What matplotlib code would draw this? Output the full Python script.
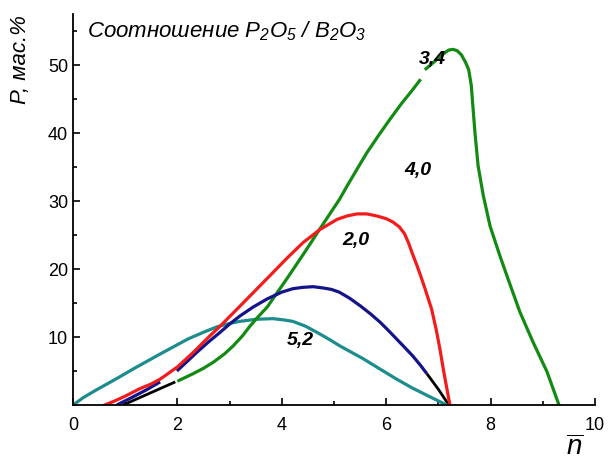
import matplotlib
matplotlib.use("Agg")
import matplotlib.pyplot as plt
from matplotlib.ticker import MultipleLocator

plt.rcParams['font.family'] = ['Liberation Sans', 'DejaVu Sans']
plt.rcParams['mathtext.fontset'] = 'custom'
plt.rcParams['mathtext.rm'] = 'Liberation Sans:italic'
plt.rcParams['mathtext.it'] = 'Liberation Sans:italic'

# ---- data ----
# ratio 3,4 (green); black part is the extrapolated start
green_n1 = [2.0, 2.3, 2.5, 2.69, 2.9, 3.07, 3.25, 3.39, 3.55, 3.72, 4.1, 4.45, 4.73, 5.11, 5.25,
            5.45, 5.63, 5.85, 6.07, 6.3, 6.5, 6.66]
green_p1 = [3.5, 4.6, 5.4, 6.3, 7.5, 8.7, 10.2, 11.6, 13.0, 14.4, 18.6, 22.6, 25.9, 30.3, 32.2,
            34.8, 37.1, 39.6, 42.0, 44.4, 46.3, 47.9]
green_n2 = [6.74, 6.97, 7.12, 7.2, 7.28, 7.36, 7.44, 7.52, 7.58, 7.63, 7.66, 7.7, 7.76, 7.86, 7.99,
            8.18, 8.35, 8.56, 8.81, 9.08, 9.31]
green_p2 = [49.3, 50.8, 51.8, 52.2, 52.3, 52.1, 51.5, 50.4, 49.3, 47.0, 44.0, 40.1, 35.2, 30.8, 26.3,
            21.9, 18.2, 13.7, 9.3, 4.9, 0.0]
green_ext_n = [0.96, 1.96]
green_ext_p = [0.0, 3.4]

# ratio 4,0 (red)
red_n = [0.61, 0.8, 1.0, 1.28, 1.5, 1.67, 2.0, 2.3, 2.6, 2.82, 3.13, 3.45, 3.77, 4.1, 4.41, 4.73,
         5.06, 5.25, 5.44, 5.63, 5.82, 6.0, 6.13, 6.25, 6.35, 6.43, 6.5, 6.59, 6.66, 6.74, 6.87,
         6.96, 7.03, 7.1, 7.16, 7.22]
red_p = [0.0, 0.6, 1.3, 2.4, 3.1, 3.8, 5.6, 7.7, 10.0, 11.6, 14.0, 16.5, 19.0, 21.6, 23.9, 25.8,
         27.3, 27.8, 28.1, 28.1, 27.8, 27.4, 26.9, 26.2, 25.2, 23.8, 22.3, 20.5, 19.0, 17.2, 14.1,
         11.0, 8.2, 5.0, 2.5, 0.0]

# ratio 2,0 (blue); black part is the extrapolated end
blue_n1 = [0.84, 1.1, 1.4, 1.67]
blue_p1 = [0.0, 1.0, 2.2, 3.4]
blue_n2 = [1.99, 2.2, 2.38, 2.6, 2.82, 3.0, 3.2, 3.45, 3.72, 4.0, 4.21, 4.4, 4.6, 4.8, 4.95, 5.1,
           5.3, 5.5, 5.7, 5.88, 6.05, 6.2, 6.35, 6.51, 6.65, 6.78]
blue_p2 = [5.0, 6.5, 7.8, 9.3, 10.7, 11.9, 13.1, 14.4, 15.6, 16.6, 17.1, 17.3, 17.4, 17.2, 17.0, 16.6,
           15.7, 14.6, 13.4, 12.2, 10.9, 9.7, 8.5, 7.2, 5.9, 4.6]
blue_ext_n = [6.78, 7.0, 7.2]
blue_ext_p = [4.6, 2.3, 0.0]

# ratio 5,2 (teal)
teal_n = [0.0, 0.2, 0.42, 0.84, 1.2, 1.67, 2.2, 2.5, 2.76, 3.0, 3.2, 3.5, 3.83, 4.05, 4.21, 4.45,
          4.67, 4.92, 5.11, 5.56, 5.9, 6.2, 6.5, 6.84, 7.16]
teal_p = [0.0, 1.1, 2.1, 3.9, 5.5, 7.5, 9.7, 10.7, 11.5, 12.0, 12.3, 12.6, 12.7, 12.5, 12.3, 11.6,
          10.7, 9.6, 8.7, 6.8, 5.2, 3.8, 2.5, 1.2, 0.0]

curve_labels = ["3,4", "4,0", "2,0", "5,2"]
label_n = [6.88, 6.61, 5.42, 4.35]
label_p = [50.9, 34.7, 24.4, 9.7]

x_ticks = [0, 2, 4, 6, 8, 10]
y_ticks = [10, 20, 30, 40, 50]

# ---- figure ----
fig = plt.figure(figsize=(6.11, 4.64), dpi=100)
ax = fig.add_axes([73/611, 1-406/464, (595-73)/611, (406-15)/464])

GREEN = '#138a13'
RED = '#f21c1c'
BLUE = '#14148a'
TEAL = '#1c8c8c'
lw = 2.3

ax.plot(green_ext_n, green_ext_p, color='black', lw=2.0, solid_capstyle='butt')
ax.plot(blue_ext_n, blue_ext_p, color='black', lw=2.0, solid_capstyle='butt')
ax.plot(teal_n, teal_p, color=TEAL, lw=lw, solid_joinstyle='round')
ax.plot(green_n1, green_p1, color=GREEN, lw=lw, solid_capstyle='butt', solid_joinstyle='round')
ax.plot(green_n2, green_p2, color=GREEN, lw=lw, solid_capstyle='butt', solid_joinstyle='round')
ax.plot(blue_n1, blue_p1, color=BLUE, lw=lw, solid_capstyle='butt', solid_joinstyle='round')
ax.plot(blue_n2, blue_p2, color=BLUE, lw=lw, solid_capstyle='butt', solid_joinstyle='round')
ax.plot(red_n, red_p, color=RED, lw=lw, solid_joinstyle='round')

for t, xn, yp in zip(curve_labels, label_n, label_p):
    ax.text(xn, yp, t, fontsize=14, fontweight='bold', style='italic',
            ha='center', va='center')

ax.set_xlim(0, 10)
ax.set_ylim(0, 57.5)
ax.set_xticks(x_ticks)
ax.set_yticks(y_ticks)
ax.xaxis.set_minor_locator(MultipleLocator(1))
ax.yaxis.set_minor_locator(MultipleLocator(5))
ax.tick_params(which='both', direction='in', labelsize=13, width=1.2)
ax.tick_params(which='major', length=5)
ax.tick_params(which='minor', length=3)
ax.tick_params(axis='x', pad=8)
ax.spines['top'].set_visible(False)
ax.spines['right'].set_visible(False)
for s in ('left', 'bottom'):
    ax.spines[s].set_linewidth(1.3)

fig.text(87/611, 1-31/464, r'Соотношение $P_2O_5$ / $B_2O_3$', fontsize=16,
         style='italic', ha='left', va='center')
fig.text(21/611, 1-60/464, 'P, мас.%', fontsize=16, style='italic',
         rotation=90, ha='center', va='center')
fig.text(575/611, 1-461/464, r'$\overline{n}$', fontsize=20, ha='center', va='bottom')

fig.savefig('out.png', dpi=100)
